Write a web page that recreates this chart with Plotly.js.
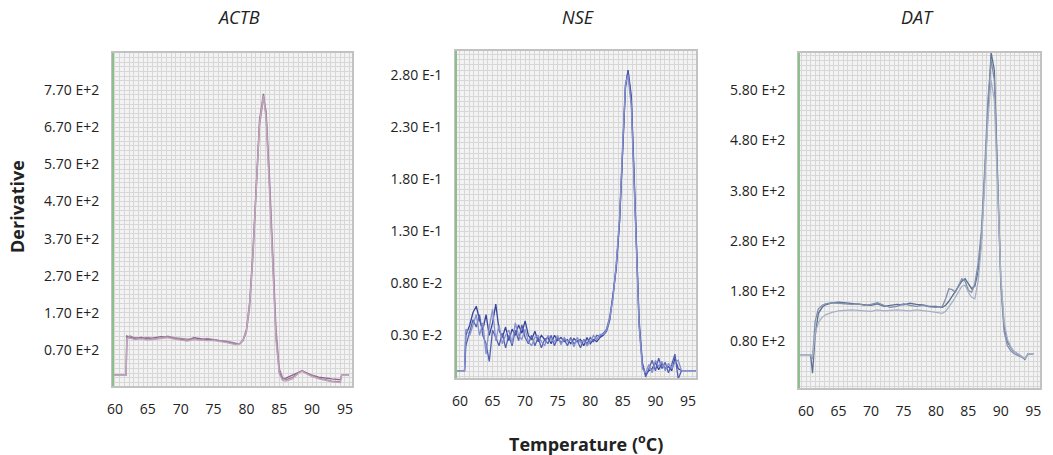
<!DOCTYPE html>
<html>
<head>
<meta charset="utf-8">
<script src="https://cdn.plot.ly/plotly-3.0.1.min.js"></script>
<style>html,body{margin:0;padding:0;background:#fff;}#chart{width:1053px;height:455px;}</style>
</head>
<body>
<div id="chart"></div>
<script>
// ---------- DATA ----------
const panelTitles = ["ACTB", "NSE", "DAT"];
const yTitle = "Derivative";
const xTitle = "Temperature (<sup>o</sup>C)";

const xTickVals = [60, 65, 70, 75, 80, 85, 90, 95];
const xTickText = ["60", "65", "70", "75", "80", "85", "90", "95"];

// ACTB
const actbTemp = [59.8, 61.7, 61.8, 62.3, 63, 64, 65, 66, 67, 68, 69, 70, 71, 72, 73, 74, 75, 76, 77, 78, 78.5, 79, 79.5, 80, 80.5, 81, 81.5, 82, 82.6, 83, 83.5, 84, 84.5, 85, 85.5, 86, 87, 88, 88.5, 89, 90, 91, 92, 93, 94.3, 94.5, 95.6];
const actbRep1 = [2, 2, 108, 104, 101, 104, 100, 103, 106, 104, 101, 98, 96, 103, 100, 98, 98, 96, 92, 88, 85, 88, 98, 125, 200, 340, 520, 690, 760, 700, 520, 300, 110, 10, -8, -6, 2, 12, 14, 10, 2, -3, -6, -8, -10, 2, 2];
const actbRep2 = [2, 2, 104, 108, 103, 101, 104, 100, 102, 107, 103, 100, 99, 100, 97, 101, 97, 95, 94, 90, 87, 86, 95, 118, 185, 320, 500, 675, 748, 715, 545, 330, 130, 20, -4, -10, -4, 10, 14, 8, 0, -6, -10, -14, -16, 2, 2];
const actbRep3 = [2, 2, 100, 102, 98, 100, 97, 99, 101, 103, 99, 96, 94, 98, 96, 95, 95, 93, 90, 86, 84, 87, 97, 122, 195, 330, 510, 680, 755, 690, 500, 280, 95, 5, -12, -14, -8, 8, 12, 7, -2, -8, -12, -16, -18, 2, 2];
const actbTickVals = [70, 170, 270, 370, 470, 570, 670, 770];
const actbTickText = ["0.70 E+2", "1.70 E+2", "2.70 E+2", "3.70 E+2", "4.70 E+2", "5.70 E+2", "6.70 E+2", "7.70 E+2"];

// NSE
const nseTemp = [59.4, 60.7, 60.9, 61.5, 62, 62.5, 63, 63.5, 64, 64.5, 65, 65.5, 66, 66.5, 67, 67.5, 68, 68.5, 69, 69.5, 70, 70.5, 71, 71.5, 72, 72.5, 73, 73.5, 74, 74.5, 75, 75.5, 76, 76.5, 77, 77.5, 78, 78.5, 79, 79.5, 80, 80.5, 81, 81.5, 82, 82.5, 83, 83.5, 84, 84.5, 85, 85.4, 85.8, 86.3, 86.7, 87.1, 87.5, 88, 88.5, 89, 89.5, 90, 90.5, 91, 91.5, 92, 92.5, 93, 93.5, 94, 96.2];
const nseRep1 = [-0.004, -0.004, 0.030, 0.040, 0.052, 0.058, 0.045, 0.035, 0.050, 0.030, 0.042, 0.060, 0.035, 0.028, 0.038, 0.025, 0.036, 0.030, 0.040, 0.032, 0.044, 0.030, 0.026, 0.034, 0.024, 0.030, 0.026, 0.028, 0.022, 0.030, 0.025, 0.028, 0.024, 0.026, 0.022, 0.027, 0.024, 0.026, 0.020, 0.028, 0.022, 0.026, 0.024, 0.028, 0.030, 0.034, 0.045, 0.068, 0.095, 0.140, 0.215, 0.270, 0.285, 0.260, 0.190, 0.110, 0.040, 0.002, -0.008, -0.004, -0.002, 0.004, -0.003, 0.003, -0.002, 0.000, -0.004, 0.008, -0.002, -0.004, -0.004];
const nseRep2 = [-0.004, -0.004, 0.020, 0.035, 0.045, 0.038, 0.050, 0.030, 0.022, 0.005, 0.035, 0.028, 0.020, 0.032, 0.018, 0.030, 0.020, 0.035, 0.025, 0.040, 0.028, 0.022, 0.030, 0.020, 0.028, 0.018, 0.026, 0.022, 0.030, 0.020, 0.028, 0.023, 0.026, 0.020, 0.028, 0.022, 0.025, 0.018, 0.026, 0.022, 0.028, 0.024, 0.030, 0.029, 0.032, 0.036, 0.048, 0.068, 0.098, 0.140, 0.212, 0.268, 0.283, 0.255, 0.185, 0.105, 0.045, 0.004, -0.010, -0.002, 0.006, -0.004, 0.008, -0.002, 0.004, -0.006, 0.002, 0.012, -0.012, -0.004, -0.004];
const nseRep3 = [-0.004, -0.004, 0.036, 0.030, 0.040, 0.050, 0.030, 0.042, 0.012, 0.038, 0.055, 0.025, 0.040, 0.022, 0.030, 0.035, 0.022, 0.042, 0.030, 0.026, 0.036, 0.024, 0.020, 0.028, 0.030, 0.024, 0.020, 0.030, 0.026, 0.024, 0.030, 0.021, 0.028, 0.024, 0.026, 0.019, 0.028, 0.023, 0.025, 0.020, 0.024, 0.030, 0.026, 0.031, 0.031, 0.035, 0.047, 0.066, 0.100, 0.145, 0.218, 0.272, 0.280, 0.250, 0.180, 0.100, 0.038, -0.002, -0.006, 0.002, -0.006, 0.006, 0.000, 0.005, -0.004, 0.003, -0.002, 0.004, 0.006, -0.004, -0.004];
const nseTickVals = [0.03, 0.08, 0.13, 0.18, 0.23, 0.28];
const nseTickText = ["0.30 E-2", "0.80 E-2", "1.30 E-1", "1.80 E-1", "2.30 E-1", "2.80 E-1"];

// DAT
const datTemp = [58.9, 60.7, 61.0, 61.4, 61.9, 62.5, 63, 64, 65, 66, 67, 68, 69, 70, 71, 72, 73, 74, 75, 76, 77, 78, 79, 80, 81, 81.5, 82, 82.5, 83, 83.5, 84, 84.5, 85, 85.5, 86, 86.5, 87, 87.5, 88, 88.5, 89, 89.5, 90, 90.5, 91, 91.5, 92, 93, 93.7, 94.2, 95];
const datRep1 = [54, 54, 17, 90, 136, 148, 153, 157, 158, 157, 156, 155, 153, 152, 155, 150, 152, 154, 153, 156, 154, 153, 150, 150, 148, 152, 160, 170, 180, 190, 200, 205, 195, 185, 190, 220, 280, 400, 540, 655, 620, 420, 200, 110, 80, 68, 60, 52, 44, 56, 56];
const datRep2 = [54, 54, 45, 120, 145, 152, 155, 157, 156, 155, 154, 155, 152, 154, 157, 152, 148, 150, 155, 152, 150, 152, 149, 148, 150, 165, 185, 183, 178, 192, 205, 200, 182, 178, 195, 235, 300, 420, 560, 640, 600, 400, 190, 100, 72, 62, 56, 50, 46, 55, 55];
const datRep3 = [54, 54, 48, 95, 118, 128, 133, 138, 141, 142, 143, 142, 141, 140, 143, 141, 142, 143, 142, 141, 143, 142, 140, 138, 136, 140, 148, 158, 168, 180, 190, 192, 178, 168, 165, 200, 270, 390, 520, 600, 560, 380, 210, 120, 85, 70, 60, 52, 46, 56, 56];
const datTickVals = [80, 180, 280, 380, 480, 580];
const datTickText = ["0.80 E+2", "1.80 E+2", "2.80 E+2", "3.80 E+2", "4.80 E+2", "5.80 E+2"];

// ---------- STYLE / LAYOUT ----------
const W = 1053, H = 455;
const FONT = "Open Sans, Noto Sans, sans-serif";
const gridC = "#d7d7d7";
const boxC = "#c2c2c2";

const panels = [
  {temp: actbTemp, reps: [actbRep1, actbRep2, actbRep3], colors: ["#8a6388", "#a584a2", "#c0a6bc"],
   px: [113, 352], py: [53, 386], xr: [59.7, 96.07], yr: [-27, 870],
   yvals: actbTickVals, ytext: actbTickText, ytick0: 70, ydt: 12.5, titleX: 238},
  {temp: nseTemp, reps: [nseRep1, nseRep2, nseRep3], colors: ["#36449c", "#5361b3", "#8791cc"],
   px: [456, 696], py: [51, 378], xr: [59.39, 96.23], yr: [-0.011, 0.3034],
   yvals: nseTickVals, ytext: nseTickText, ytick0: 0.03, ydt: 0.005, titleX: 578},
  {temp: datTemp, reps: [datRep1, datRep2, datRep3], colors: ["#5d6f92", "#8090ad", "#a6b0c5"],
   px: [799, 1040], py: [53, 388], xr: [58.92, 96.03], yr: [-12.6, 654],
   yvals: datTickVals, ytext: datTickText, ytick0: 80, ydt: 10, titleX: 917}
];

const traces = [];
const layout = {
  width: W, height: H,
  margin: {l: 0, r: 0, t: 0, b: 0},
  paper_bgcolor: "#ffffff",
  plot_bgcolor: "#f3f3f3",
  showlegend: false,
  font: {family: FONT, size: 13, color: "#222"},
  annotations: [],
  shapes: []
};

panels.forEach((p, i) => {
  const n = i === 0 ? "" : String(i + 1);
  p.reps.forEach((r, k) => {
    traces.push({
      type: "scatter", mode: "lines", x: p.temp, y: r,
      xaxis: "x" + n, yaxis: "y" + n,
      line: {color: p.colors[k], width: 1.3},
      hoverinfo: "skip"
    });
  });
  layout["xaxis" + n] = {
    domain: [p.px[0] / W, p.px[1] / W],
    range: p.xr, anchor: "y" + n,
    tickmode: "array", tickvals: xTickVals, ticktext: xTickText,
    ticks: "", ticklabelstandoff: 9,
    tickfont: {family: FONT, size: 14, color: "#222"},
    showgrid: true, gridcolor: gridC, gridwidth: 1,
    minor: {tickmode: "linear", tick0: 60, dtick: 5 / 7, showgrid: true, gridcolor: gridC, gridwidth: 1, ticks: ""},
    showline: true, mirror: true, linecolor: boxC, linewidth: 2,
    zeroline: false, fixedrange: true
  };
  layout["yaxis" + n] = {
    domain: [1 - p.py[1] / H, 1 - p.py[0] / H],
    range: p.yr, anchor: "x" + n,
    tickmode: "array", tickvals: p.yvals, ticktext: p.ytext,
    ticks: "", ticklabelstandoff: 9,
    tickfont: {family: FONT, size: 14, color: "#222"},
    showgrid: true, gridcolor: gridC, gridwidth: 1,
    minor: {tickmode: "linear", tick0: p.ytick0, dtick: p.ydt, showgrid: true, gridcolor: gridC, gridwidth: 1, ticks: ""},
    showline: true, mirror: true, linecolor: boxC, linewidth: 2,
    zeroline: false, fixedrange: true
  };
  layout.shapes.push({
    type: "line", xref: "x" + n + " domain", yref: "y" + n + " domain",
    x0: 0, x1: 0, y0: 0, y1: 1,
    line: {color: "#8cbf8c", width: 2}
  });
  layout.annotations.push({
    text: "<i>" + panelTitles[i] + "</i>", xref: "paper", yref: "paper",
    x: p.titleX / W, y: 1 - 17 / H, xanchor: "center", yanchor: "middle",
    showarrow: false, font: {family: FONT, size: 18, color: "#222"}
  });
});

layout.annotations.push({
  text: "<b>" + yTitle + "</b>", xref: "paper", yref: "paper",
  x: 17 / W, y: 1 - 207 / H, xanchor: "center", yanchor: "middle",
  textangle: -90, showarrow: false, font: {family: FONT, size: 18, color: "#222"}
});
layout.annotations.push({
  text: "<b>" + xTitle + "</b>", xref: "paper", yref: "paper",
  x: 586 / W, y: 1 - 443 / H, xanchor: "center", yanchor: "middle",
  showarrow: false, font: {family: FONT, size: 18, color: "#222"}
});

Plotly.newPlot("chart", traces, layout, {displayModeBar: false, staticPlot: true});
</script>
</body>
</html>
